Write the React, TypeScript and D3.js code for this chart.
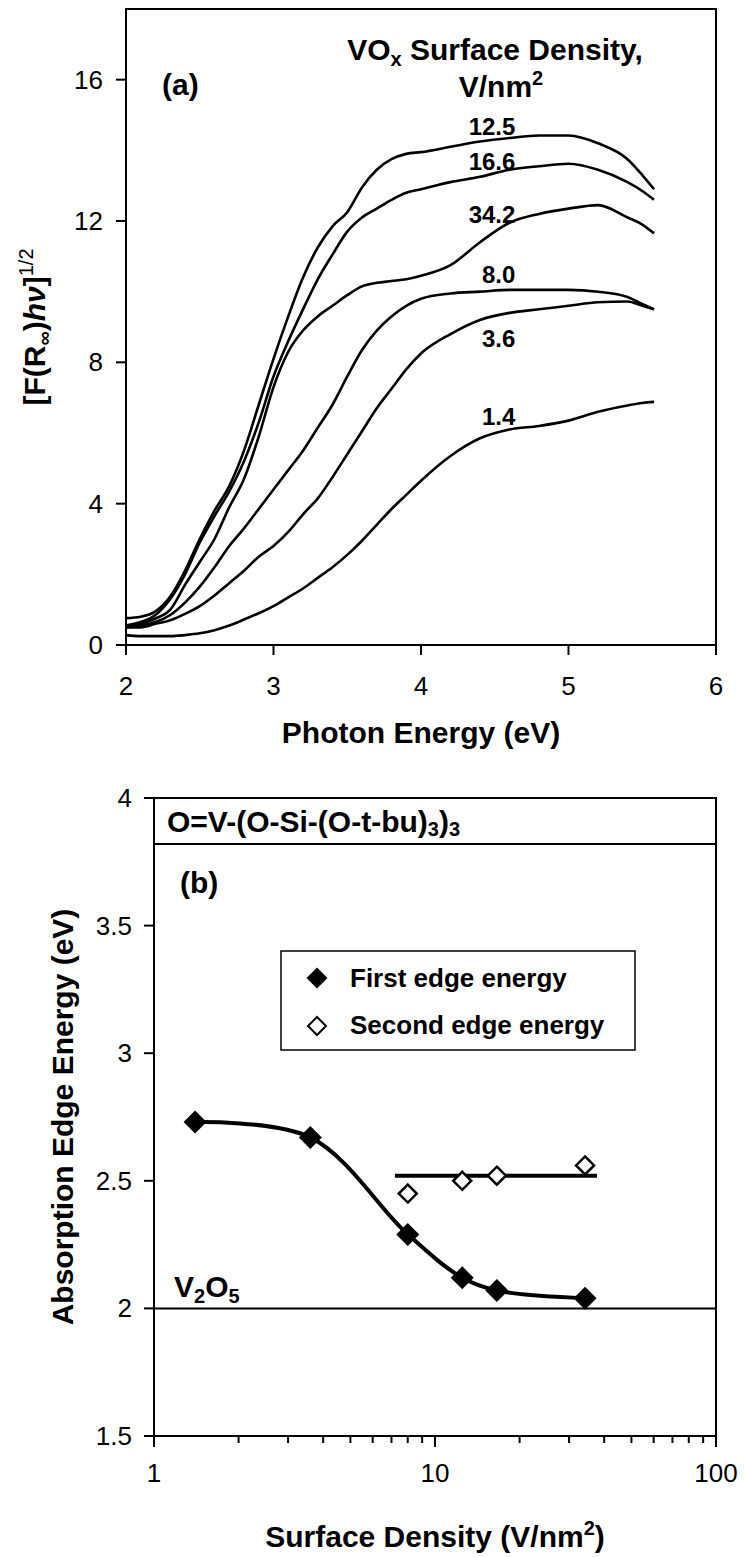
import React from 'react';
import * as d3 from 'd3';

// ---- panel (a): DRS edge spectra ----
const energy = [2.0, 2.1, 2.2, 2.3, 2.4, 2.5, 2.6, 2.7, 2.8, 2.9, 3.0, 3.1, 3.2, 3.3, 3.4, 3.5, 3.6, 3.7, 3.8, 3.9, 4.0, 4.2, 4.4, 4.6, 4.8, 5.0, 5.2, 5.4, 5.5, 5.58];
const curve12_5 = [0.76, 0.8, 0.95, 1.37, 2.1, 3.0, 3.8, 4.5, 5.5, 6.8, 8.1, 9.3, 10.4, 11.25, 11.85, 12.25, 12.95, 13.45, 13.75, 13.9, 13.95, 14.1, 14.25, 14.35, 14.42, 14.42, 14.2, 13.75, 13.3, 12.9];
const curve16_6 = [0.55, 0.65, 0.85, 1.3, 2.0, 2.9, 3.65, 4.35, 5.2, 6.3, 7.6, 8.6, 9.5, 10.35, 11.05, 11.7, 12.1, 12.35, 12.6, 12.8, 12.9, 13.1, 13.25, 13.45, 13.55, 13.62, 13.45, 13.1, 12.85, 12.6];
const curve34_2 = [0.5, 0.6, 0.75, 1.0, 1.7, 2.35, 3.0, 3.9, 4.7, 5.9, 7.3, 8.3, 8.9, 9.3, 9.6, 9.9, 10.15, 10.25, 10.3, 10.35, 10.45, 10.75, 11.4, 11.95, 12.2, 12.35, 12.45, 12.1, 11.9, 11.65];
const curve8_0 = [0.5, 0.55, 0.65, 0.85, 1.2, 1.65, 2.2, 2.8, 3.3, 3.85, 4.4, 4.95, 5.5, 6.15, 6.8, 7.6, 8.35, 8.9, 9.3, 9.6, 9.8, 9.95, 10.0, 10.05, 10.05, 10.05, 10.0, 9.85, 9.65, 9.5];
const curve3_6 = [0.5, 0.5, 0.6, 0.7, 0.88, 1.1, 1.4, 1.75, 2.1, 2.5, 2.8, 3.2, 3.7, 4.15, 4.75, 5.4, 6.05, 6.7, 7.25, 7.8, 8.25, 8.8, 9.2, 9.4, 9.5, 9.6, 9.7, 9.72, 9.6, 9.5];
const curve1_4 = [0.28, 0.25, 0.25, 0.25, 0.28, 0.33, 0.42, 0.55, 0.72, 0.9, 1.1, 1.35, 1.6, 1.9, 2.2, 2.55, 2.95, 3.4, 3.85, 4.25, 4.65, 5.35, 5.85, 6.1, 6.2, 6.35, 6.6, 6.78, 6.85, 6.88];
const spectra = [curve12_5, curve16_6, curve34_2, curve8_0, curve3_6, curve1_4];
const spectraLabels = ['12.5', '16.6', '34.2', '8.0', '3.6', '1.4'];
const labelEnergy = 4.64;
const labelLevel = [14.43, 13.44, 11.94, 10.25, 8.43, 6.23];
const topXTicks = [2, 3, 4, 5, 6];
const topYTicks = [0, 4, 8, 12, 16];

// ---- panel (b): edge energies vs surface density ----
const density = [1.4, 3.6, 8.0, 12.5, 16.6, 34.2];
const firstEdge = [2.73, 2.67, 2.29, 2.12, 2.07, 2.04];
const secondDensity = [8.0, 12.5, 16.6, 34.2];
const secondEdge = [2.45, 2.5, 2.52, 2.56];
const secondFitRange = [7.2, 37.7];
const secondFitLevel = 2.52;
const v2o5Level = 2.0;
const refCompoundLevel = 3.82;
const botYTicks = [1.5, 2, 2.5, 3, 3.5, 4];
const botXMajor = [1, 10, 100];

const FONT = "'Liberation Sans', Arial, Helvetica, sans-serif";

const diamond = (r: number) => `M0,${-r}L${r},0L0,${r}L${-r},0Z`;

const App: React.FC = () => {
  // scales
  const topX = d3.scaleLinear().domain([2, 6]).range([126, 716]);
  const topY = d3.scaleLinear().domain([0, 18]).range([645, 9]);
  const botX = d3.scaleLog().domain([1, 100]).range([154, 716]);
  const botY = d3.scaleLinear().domain([1.5, 4]).range([1436, 798]);

  const spectrumLine = d3.line<number>()
    .x((_, i) => topX(energy[i]))
    .y(d => topY(d))
    .curve(d3.curveMonotoneX);

  const firstLine = d3.line<number>()
    .x((_, i) => botX(density[i]))
    .y(d => botY(d))
    .curve(d3.curveCatmullRom.alpha(0.5));

  const minorTicks = botX.ticks().filter(t => !botXMajor.includes(t));

  const [tx0, tx1] = topX.range();
  const [ty0, ty1] = topY.range();
  const [bx0, bx1] = botX.range();
  const [by0, by1] = botY.range();

  return (
    <div style={{ position: 'absolute', left: 0, top: 0 }}>
      <svg width={744} height={1557} style={{ display: 'block', background: '#fff' }} fontFamily={FONT}>
        {/* ================= panel (a) ================= */}
        <rect x={tx0} y={ty1} width={tx1 - tx0} height={ty0 - ty1} fill="none" stroke="#000" strokeWidth={2} />
        {topYTicks.map(t => (
          <g key={'ty' + t}>
            <line x1={tx0 - 10} x2={tx0} y1={topY(t)} y2={topY(t)} stroke="#000" strokeWidth={2} />
            <text x={tx0 - 23} y={topY(t) + 9} textAnchor="end" fontSize={26}>{t}</text>
          </g>
        ))}
        {topXTicks.map(t => (
          <g key={'tx' + t}>
            <line x1={topX(t)} x2={topX(t)} y1={ty0} y2={ty0 + 10} stroke="#000" strokeWidth={2} />
            <text x={topX(t)} y={695} textAnchor="middle" fontSize={26}>{t}</text>
          </g>
        ))}
        {spectra.map((s, i) => (
          <path key={'sp' + i} d={spectrumLine(s) || ''} fill="none" stroke="#000" strokeWidth={2.6} strokeLinejoin="round" />
        ))}
        {spectraLabels.map((l, i) => (
          <text key={'sl' + i} x={topX(labelEnergy)} y={topY(labelLevel[i])} textAnchor="end" fontSize={24} fontWeight="bold">{l}</text>
        ))}
        <text x={162} y={95} fontSize={30} fontWeight="bold">(a)</text>
        <text x={495} y={60} textAnchor="middle" fontSize={30} fontWeight="bold">
          VO<tspan fontSize={20} dy={6}>x</tspan><tspan dy={-6}> Surface Density,</tspan>
        </text>
        <text x={501} y={97} textAnchor="middle" fontSize={30} fontWeight="bold">
          V/nm<tspan fontSize={20} dy={-12}>2</tspan>
        </text>
        <text x={421} y={743} textAnchor="middle" fontSize={30} fontWeight="bold">Photon Energy (eV)</text>
        <text transform={`translate(45,${327}) rotate(-90)`} textAnchor="middle" fontSize={30} fontWeight="bold">
          [F(R<tspan fontSize={20} dy={6}>∞</tspan><tspan dy={-6}>)</tspan><tspan fontStyle="italic">hν</tspan>]<tspan fontSize={20} dy={-12} fontWeight="normal">1/2</tspan>
        </text>

        {/* ================= panel (b) ================= */}
        <rect x={bx0} y={by1} width={bx1 - bx0} height={by0 - by1} fill="none" stroke="#000" strokeWidth={2} />
        <line x1={bx0} x2={bx1} y1={botY(refCompoundLevel)} y2={botY(refCompoundLevel)} stroke="#000" strokeWidth={2} />
        <line x1={bx0} x2={bx1} y1={botY(v2o5Level)} y2={botY(v2o5Level)} stroke="#000" strokeWidth={2} />
        {botYTicks.map(t => (
          <g key={'by' + t}>
            <line x1={bx0 - 10} x2={bx0} y1={botY(t)} y2={botY(t)} stroke="#000" strokeWidth={2} />
            <text x={bx0 - 22} y={botY(t) + 9} textAnchor="end" fontSize={26}>{t}</text>
          </g>
        ))}
        {minorTicks.map(t => (
          <line key={'mn' + t} x1={botX(t)} x2={botX(t)} y1={by0} y2={by0 + 7} stroke="#000" strokeWidth={2} />
        ))}
        {botXMajor.map(t => (
          <g key={'bx' + t}>
            <line x1={botX(t)} x2={botX(t)} y1={by0} y2={by0 + 11} stroke="#000" strokeWidth={2} />
            <text x={botX(t)} y={1482} textAnchor="middle" fontSize={26}>{t}</text>
          </g>
        ))}
        <line x1={botX(secondFitRange[0])} x2={botX(secondFitRange[1])} y1={botY(secondFitLevel)} y2={botY(secondFitLevel)} stroke="#000" strokeWidth={4} />
        <path d={firstLine(firstEdge) || ''} fill="none" stroke="#000" strokeWidth={4} />
        {firstEdge.map((v, i) => (
          <path key={'fe' + i} d={diamond(11.5)} transform={`translate(${botX(density[i])},${botY(v)})`} fill="#000" />
        ))}
        {secondEdge.map((v, i) => (
          <path key={'se' + i} d={diamond(9)} transform={`translate(${botX(secondDensity[i])},${botY(v)})`} fill="#fff" stroke="#000" strokeWidth={2.5} />
        ))}
        <text x={167} y={832} fontSize={30} fontWeight="bold">
          O=V-(O-Si-(O-t-bu)<tspan fontSize={20} dy={4}>3</tspan><tspan dy={-4}>)</tspan><tspan fontSize={20} dy={4}>3</tspan>
        </text>
        <text x={180} y={893} fontSize={30} fontWeight="bold">(b)</text>
        <text x={174} y={1297} fontSize={30} fontWeight="bold">
          V<tspan fontSize={20} dy={6}>2</tspan><tspan dy={-6}>O</tspan><tspan fontSize={20} dy={6}>5</tspan>
        </text>

        {/* legend */}
        <rect x={281} y={951} width={354} height={99} fill="#fff" stroke="#000" strokeWidth={1.5} />
        <path d={diamond(10.5)} transform="translate(317,978)" fill="#000" />
        <text x={350} y={987} fontSize={26} fontWeight="bold">First edge energy</text>
        <path d={diamond(9)} transform="translate(317,1026)" fill="#fff" stroke="#000" strokeWidth={2} />
        <text x={350} y={1034} fontSize={26} fontWeight="bold">Second edge energy</text>

        <text x={435} y={1547} textAnchor="middle" fontSize={30} fontWeight="bold">
          Surface Density (V/nm<tspan fontSize={20} dy={-12}>2</tspan><tspan dy={12}>)</tspan>
        </text>
        <text transform={`translate(73,1117) rotate(-90)`} textAnchor="middle" fontSize={30} fontWeight="bold">
          Absorption Edge Energy (eV)
        </text>
      </svg>
    </div>
  );
};

export default App;
